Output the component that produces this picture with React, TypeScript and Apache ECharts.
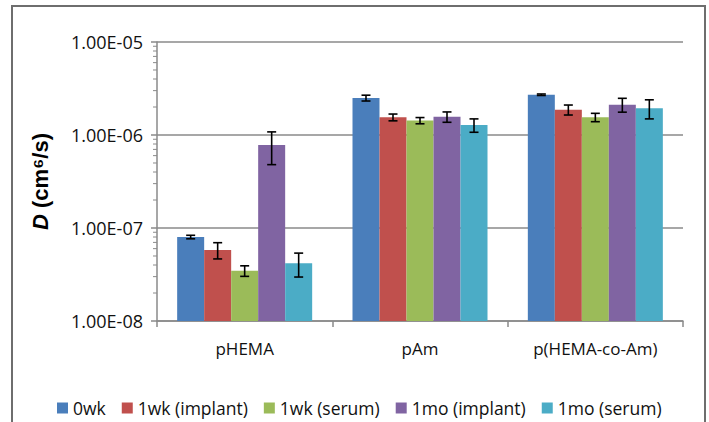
import React, { useEffect, useRef } from "react";
import * as echarts from "echarts";

const categories = ["pHEMA", "pAm", "p(HEMA-co-Am)"];
const seriesNames = ["0wk", "1wk (implant)", "1wk (serum)", "1mo (implant)", "1mo (serum)"];
const seriesColors = ["#4A7EBB", "#C0504D", "#9BBB59", "#8064A2", "#4BACC6"];

const wk0 = [8.0e-8, 2.5e-6, 2.71e-6];
const wk1Implant = [5.8e-8, 1.55e-6, 1.87e-6];
const wk1Serum = [3.47e-8, 1.43e-6, 1.55e-6];
const mo1Implant = [7.8e-7, 1.57e-6, 2.12e-6];
const mo1Serum = [4.17e-8, 1.28e-6, 1.94e-6];

const wk0Err = [0.35e-8, 0.18e-6, 0.05e-6];
const wk1ImplantErr = [1.15e-8, 0.13e-6, 0.23e-6];
const wk1SerumErr = [0.45e-8, 0.11e-6, 0.16e-6];
const mo1ImplantErr = [3.0e-7, 0.2e-6, 0.36e-6];
const mo1SerumErr = [1.2e-8, 0.21e-6, 0.45e-6];

const yMin = 1e-8;
const yMax = 1e-5;
const minorDecades = [1e-8, 1e-7, 1e-6];
const minorMultipliers = [2, 3, 4, 5, 6, 7, 8, 9];

const allValues = [wk0, wk1Implant, wk1Serum, mo1Implant, mo1Serum];
const allErrors = [wk0Err, wk1ImplantErr, wk1SerumErr, mo1ImplantErr, mo1SerumErr];

const FONT = "Open Sans";
const GRAY = "#8a8a8a";
const BAR_FRACTION = 0.77;

function fmtExp(v: number): string {
  const s = v.toExponential(2).toUpperCase();
  const [m, e] = s.split("E");
  const digits = e.replace(/[-+]/, "").padStart(2, "0");
  return `${m}E${e[0] === "-" ? "-" : ""}${digits}`;
}

export default function App() {
  const ref = useRef<HTMLDivElement>(null);
  useEffect(() => {
    if (!ref.current) return;
    const chart = echarts.init(ref.current, undefined, { renderer: "svg" });
    const nSeries = seriesNames.length;

    const barSeries = seriesNames.map((name, si) => ({
      name,
      type: "custom",
      itemStyle: { color: seriesColors[si] },
      data: categories.map((_, ci) => [ci, allValues[si][ci], allErrors[si][ci]]),
      encode: { x: 0, y: 1 },
      z: 3,
      renderItem: (params: any, api: any) => {
        const ci = api.value(0);
        const v = api.value(1);
        const e = api.value(2);
        const cs = params.coordSys;
        const band = cs.width / categories.length;
        const bw = (band * BAR_FRACTION) / nSeries;
        const c = api.coord([ci, v]);
        const xc = c[0] + (si - (nSeries - 1) / 2) * bw;
        const bottom = cs.y + cs.height;
        const top = c[1];
        const hi = api.coord([ci, v + e])[1];
        const lo = api.coord([ci, Math.max(v - e, yMin)])[1];
        const cap = 4.5;
        const lineStyle = { stroke: "#000", lineWidth: 1.6 };
        return {
          type: "group",
          children: [
            {
              type: "rect",
              shape: { x: xc - bw / 2, y: top, width: bw, height: bottom - top },
              style: { fill: seriesColors[si] },
            },
            { type: "line", shape: { x1: xc, y1: hi, x2: xc, y2: lo }, style: lineStyle },
            { type: "line", shape: { x1: xc - cap, y1: hi, x2: xc + cap, y2: hi }, style: lineStyle },
            { type: "line", shape: { x1: xc - cap, y1: lo, x2: xc + cap, y2: lo }, style: lineStyle },
          ],
        };
      },
    }));

    const minorData: number[][] = [];
    minorDecades.forEach((d) => minorMultipliers.forEach((m) => minorData.push([0, d * m])));

    const minorSeries = {
      name: "minor",
      type: "custom",
      silent: true,
      data: minorData,
      encode: { x: 0, y: 1 },
      z: 4,
      renderItem: (params: any, api: any) => {
        const y = api.coord([0, api.value(1)])[1];
        const x0 = params.coordSys.x;
        return {
          type: "line",
          shape: { x1: x0 - 4, y1: y, x2: x0, y2: y },
          style: { stroke: GRAY, lineWidth: 1 },
        };
      },
    };

    chart.setOption({
      animation: false,
      backgroundColor: "#fff",
      textStyle: { fontFamily: FONT },
      graphic: [
        {
          type: "rect",
          shape: { x: 12, y: 6, width: 693, height: 440 },
          style: { fill: "none", stroke: "#6e6e6e", lineWidth: 2 },
          silent: true,
        },
      ],
      grid: { left: 157, right: 26, top: 42, bottom: 101 },
      legend: {
        data: seriesNames,
        left: 52,
        top: 394,
        icon: "rect",
        itemWidth: 11,
        itemHeight: 11,
        itemGap: 16,
        textStyle: { fontFamily: FONT, fontSize: 17.5, color: "#111" },
      },
      xAxis: {
        type: "category",
        data: categories,
        axisLine: { lineStyle: { color: GRAY, width: 1.5 } },
        axisTick: { show: true, length: 6, lineStyle: { color: GRAY, width: 1.5 } },
        axisLabel: { fontFamily: FONT, fontSize: 17, color: "#111", margin: 19 },
      },
      yAxis: {
        type: "log",
        logBase: 10,
        min: yMin,
        max: yMax,
        splitNumber: 3,
        name: "{i|D} (cm⁶/s)",
        nameLocation: "middle",
        nameGap: 106,
        nameTextStyle: {
          fontFamily: "Liberation Sans",
          fontWeight: "bold",
          fontSize: 22,
          color: "#000",
          rich: {
            i: { fontFamily: "Liberation Sans", fontWeight: "bold", fontStyle: "italic", fontSize: 22, color: "#000" },
          },
        },
        axisLine: { show: true, lineStyle: { color: GRAY, width: 1.5 } },
        axisTick: { show: true, length: 6, lineStyle: { color: GRAY, width: 1.5 } },
        axisLabel: { fontFamily: FONT, fontSize: 18, color: "#111", margin: 14, formatter: (v: number) => fmtExp(v) },
        splitLine: { show: true, lineStyle: { color: GRAY, width: 1.5 } },
      },
      series: [...barSeries, minorSeries],
    });
    return () => chart.dispose();
  }, []);
  return <div ref={ref} style={{ position: "fixed", left: 0, top: 0, width: 709, height: 422 }} />;
}
